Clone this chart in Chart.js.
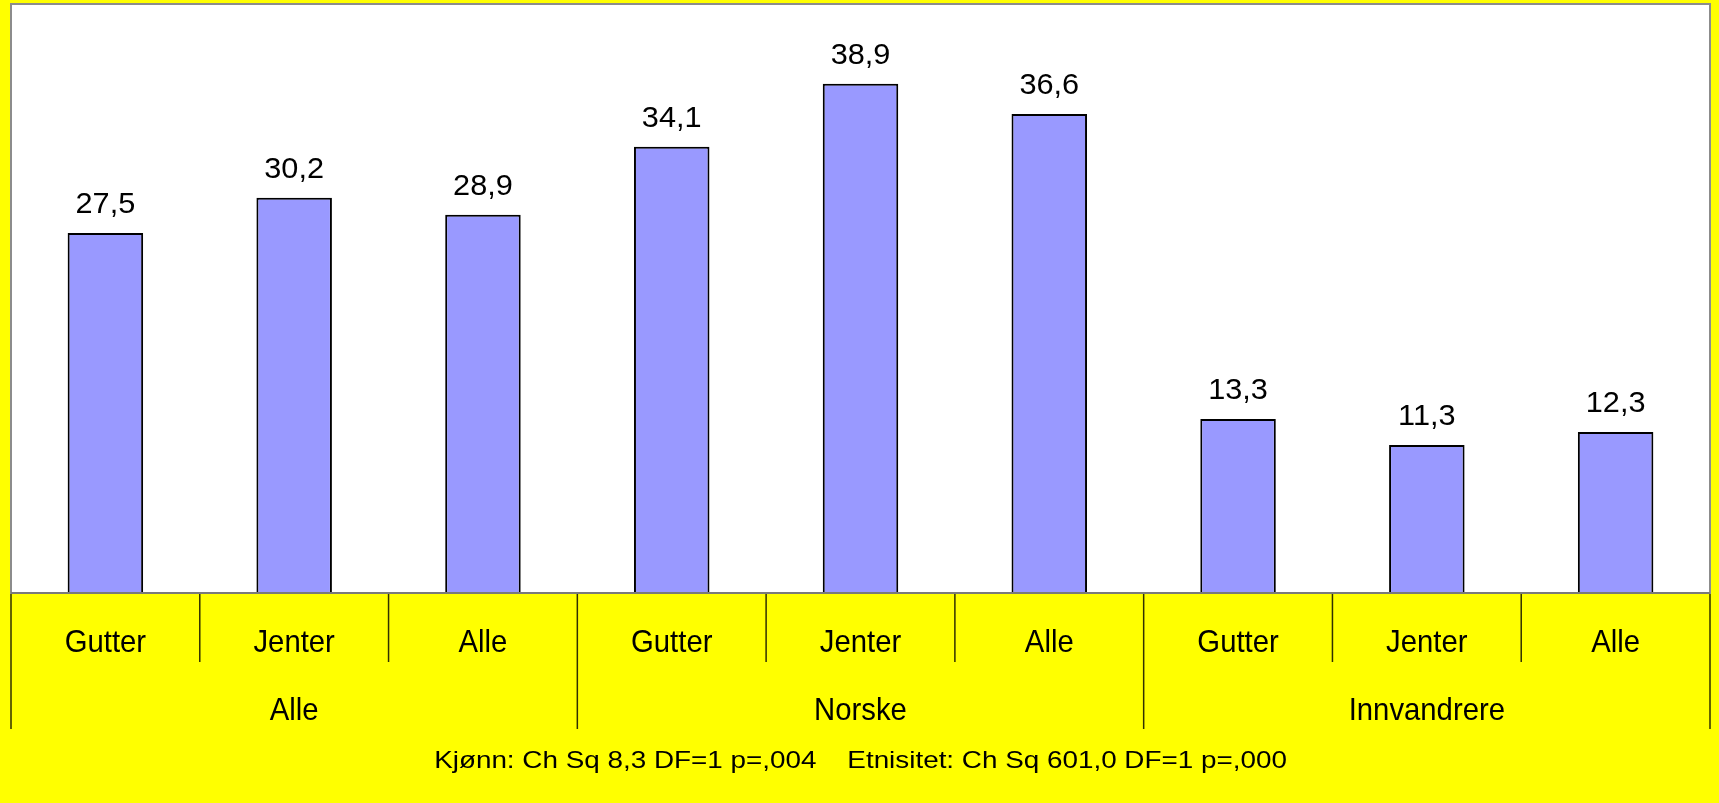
<!DOCTYPE html>
<html>
<head>
<meta charset="utf-8">
<script src="https://cdn.jsdelivr.net/npm/chart.js@4/dist/chart.umd.min.js"></script>
<style>
html,body{margin:0;padding:0;background:#ffff00;}
#wrap{width:1719px;height:803px;position:relative;}
</style>
</head>
<body>
<div id="wrap"><canvas id="c"></canvas></div>
<script>
const categories = ["Gutter","Jenter","Alle","Gutter","Jenter","Alle","Gutter","Jenter","Alle"];
const groups = ["Alle","Norske","Innvandrere"];
const groupSize = 3;
const values = [27.5,30.2,28.9,34.1,38.9,36.6,13.3,11.3,12.3];
const valueLabels = ["27,5","30,2","28,9","34,1","38,9","36,6","13,3","11,3","12,3"];
const footerText = "Kjønn: Ch Sq 8,3 DF=1 p=,004    Etnisitet: Ch Sq 601,0 DF=1 p=,000";
const yMin = 0, yMax = 45;

const FONT = '"Liberation Sans", Arial, sans-serif';

function drawText(ctx, text, x, y, size, sx) {
  ctx.save();
  ctx.font = size + 'px ' + FONT;
  ctx.textAlign = 'center';
  ctx.textBaseline = 'alphabetic';
  ctx.translate(x, y);
  ctx.scale(sx, 1);
  ctx.fillText(text, 0, 0);
  ctx.restore();
}

const decor = {
  id: 'decor',
  beforeDraw(chart) {
    const {ctx, chartArea: a} = chart;
    ctx.save();
    ctx.fillStyle = '#ffff00';
    ctx.fillRect(0, 0, chart.width, chart.height);
    ctx.fillStyle = '#ffffff';
    ctx.fillRect(a.left, a.top, a.right - a.left, a.bottom - a.top);
    ctx.strokeStyle = '#8c8c8c';
    ctx.lineWidth = 2;
    ctx.strokeRect(a.left, a.top, a.right - a.left, a.bottom - a.top);
    ctx.restore();
  },
  afterDatasetsDraw(chart) {
    const {ctx, chartArea: a, scales: {x, y}} = chart;
    const meta = chart.getDatasetMeta(0);
    ctx.save();
    ctx.strokeStyle = '#7a7a7a';
    ctx.lineWidth = 2;
    ctx.beginPath(); ctx.moveTo(a.left, a.bottom); ctx.lineTo(a.right, a.bottom); ctx.stroke();
    ctx.fillStyle = '#000';
    meta.data.forEach((bar, i) => {
      drawText(ctx, valueLabels[i], bar.x, y.getPixelForValue(values[i]) - 20, 29.5, 1.04);
    });
    const n = categories.length;
    const half = (x.getPixelForValue(1) - x.getPixelForValue(0)) / 2;
    ctx.strokeStyle = '#303000';
    ctx.lineWidth = 1.5;
    for (let i = 0; i <= n; i++) {
      const px = i < n ? x.getPixelForValue(i) - half : x.getPixelForValue(n - 1) + half;
      const long = (i % groupSize === 0);
      ctx.beginPath();
      ctx.moveTo(px, a.bottom + 1);
      ctx.lineTo(px, a.bottom + (long ? 136 : 69));
      ctx.stroke();
    }
    categories.forEach((c, i) => {
      drawText(ctx, c, x.getPixelForValue(i), a.bottom + 59, 31.5, 0.93);
    });
    groups.forEach((g, gi) => {
      const first = x.getPixelForValue(gi * groupSize);
      const last = x.getPixelForValue(gi * groupSize + groupSize - 1);
      drawText(ctx, g, (first + last) / 2, a.bottom + 127, 31.5, 0.93);
    });
    drawText(ctx, footerText, (a.left + a.right) / 2, a.bottom + 175, 24, 1.16);
    ctx.restore();
  }
};

new Chart(document.getElementById('c'), {
  type: 'bar',
  data: {
    labels: categories,
    datasets: [{
      data: values,
      backgroundColor: '#9999ff',
      borderColor: '#000000',
      borderWidth: 2,
      categoryPercentage: 1.0,
      barPercentage: 0.40
    }]
  },
  options: {
    responsive: true,
    maintainAspectRatio: false,
    animation: false,
    layout: { padding: { left: 11, top: 4, right: 9, bottom: 210 } },
    plugins: { legend: { display: false }, tooltip: { enabled: false } },
    scales: {
      x: { display: false, offset: true },
      y: { display: false, min: yMin, max: yMax }
    }
  },
  plugins: [decor]
});
</script>
</body>
</html>
